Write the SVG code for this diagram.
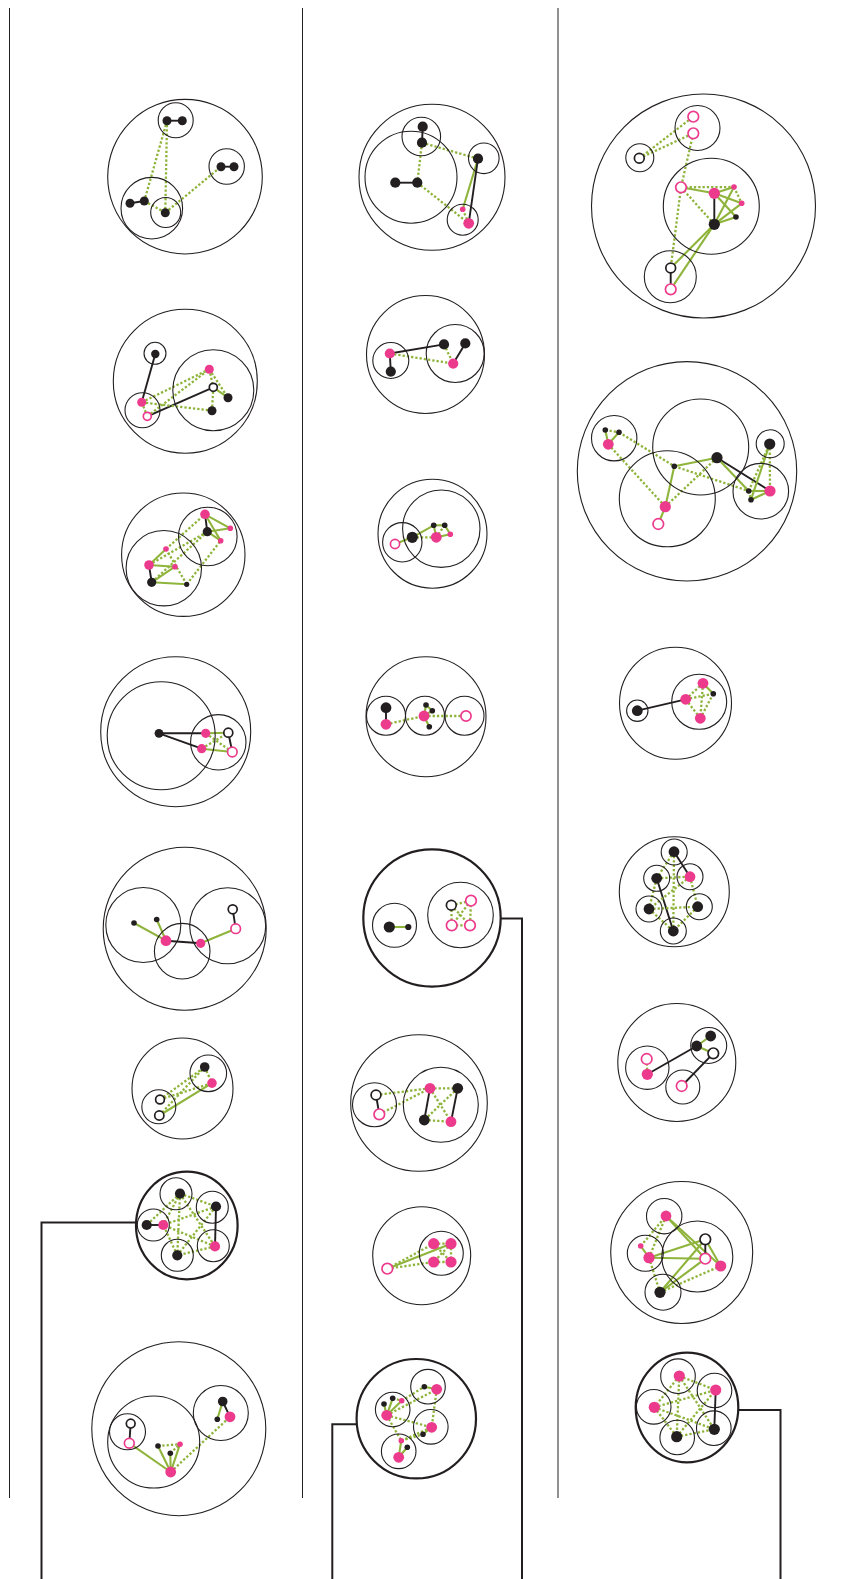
<svg xmlns="http://www.w3.org/2000/svg" width="848" height="1579" viewBox="0 0 848 1579">
<style>
.c{fill:none;stroke:#231f20;stroke-width:1.1}
.cb{fill:none;stroke:#231f20;stroke-width:2.2}
.k{fill:#231f20}
.m{fill:#ec3b8d}
.ho{fill:#fff;stroke:#231f20;stroke-width:1.7}
.hm{fill:#fff;stroke:#ec3b8d;stroke-width:1.7}
.eb{stroke:#231f20;stroke-width:1.9;fill:none}
.eg{stroke:#8fb43b;stroke-width:2.1;fill:none}
.ed{stroke:#8fb43b;stroke-width:2.3;stroke-dasharray:2.3 2;fill:none}
.rule{stroke:#231f20;stroke-width:1;fill:none}
.link{stroke:#231f20;stroke-width:2;fill:none}
</style>
<rect width="848" height="1579" fill="#fff"/>
<g id="rules">
<line class="rule" x1="9.5" y1="8" x2="9.5" y2="1498"/>
<line class="rule" x1="302.5" y1="8" x2="302.5" y2="1498"/>
<line class="rule" x1="558" y1="8" x2="558" y2="1498"/>
</g>
<g id="connectors">
<path class="link" d="M136,1222.5 H41.5 V1579"/>
<path class="link" d="M500.7,918.5 H522 V1579"/>
<path class="link" d="M356.7,1424.3 H332.3 V1579"/>
<path class="link" d="M738.3,1410 H780.5 V1579"/>
<!-- d1 -->
<line class="eb" x1="167" y1="120.7" x2="182.3" y2="120.7"/>
<line class="eb" x1="221" y1="166.7" x2="234" y2="166.7"/>
<line class="eb" x1="130" y1="203.3" x2="144.3" y2="201"/>
<line class="ed" x1="167" y1="120.7" x2="144.3" y2="201"/>
<line class="ed" x1="167" y1="120.7" x2="165.3" y2="212.7"/>
<line class="ed" x1="165.3" y1="212.7" x2="221" y2="166.7"/>
<line class="ed" x1="144.3" y1="201" x2="165.3" y2="212.7"/>
<!-- d2 -->
<line class="eb" x1="155.3" y1="354" x2="141.7" y2="402.3"/>
<line class="eb" x1="147.3" y1="416.3" x2="213.3" y2="387.3"/>
<line class="ed" x1="141.7" y1="402.3" x2="209.3" y2="369.3"/>
<line class="ed" x1="147.3" y1="416.3" x2="209.3" y2="369.3"/>
<line class="ed" x1="141.7" y1="402.3" x2="212" y2="410.7"/>
<line class="ed" x1="141.7" y1="402.3" x2="147.3" y2="416.3"/>
<line class="ed" x1="209.3" y1="369.3" x2="213.3" y2="387.3"/>
<line class="ed" x1="209.3" y1="369.3" x2="228" y2="397.7"/>
<line class="eg" x1="213.3" y1="387.3" x2="228" y2="397.7"/>
<line class="ed" x1="213.3" y1="387.3" x2="212" y2="410.7"/>
<!-- d3 -->
<line class="eb" x1="205" y1="514.3" x2="207.3" y2="531.7"/>
<line class="eb" x1="149" y1="565" x2="151.7" y2="582.3"/>
<line class="eg" x1="205" y1="514.3" x2="230.3" y2="528.3"/>
<line class="eg" x1="205" y1="514.3" x2="220.7" y2="540.7"/>
<line class="eg" x1="207.3" y1="531.7" x2="230.3" y2="528.3"/>
<line class="eg" x1="207.3" y1="531.7" x2="220.7" y2="540.7"/>
<line class="eg" x1="149" y1="565" x2="166" y2="549"/>
<line class="eg" x1="149" y1="565" x2="175" y2="566.7"/>
<line class="eg" x1="151.7" y1="582.3" x2="175" y2="566.7"/>
<line class="eg" x1="151.7" y1="582.3" x2="186.7" y2="584.3"/>
<line class="ed" x1="166" y1="549" x2="205" y2="514.3"/>
<line class="ed" x1="149" y1="565" x2="207.3" y2="531.7"/>
<line class="ed" x1="151.7" y1="582.3" x2="207.3" y2="531.7"/>
<line class="ed" x1="186.7" y1="584.3" x2="220.7" y2="540.7"/>
<line class="ed" x1="166" y1="549" x2="186.7" y2="584.3"/>
<!-- d4 -->
<line class="eb" x1="159" y1="733.3" x2="205.7" y2="733.3"/>
<line class="eb" x1="159" y1="733.3" x2="201.7" y2="748.7"/>
<line class="eg" x1="205.7" y1="733.3" x2="228.3" y2="732.7"/>
<line class="eg" x1="201.7" y1="748.7" x2="232.3" y2="752"/>
<line class="eb" x1="228.3" y1="732.7" x2="232.3" y2="752"/>
<line class="ed" x1="205.7" y1="733.3" x2="232.3" y2="752"/>
<line class="ed" x1="201.7" y1="748.7" x2="228.3" y2="732.7"/>
<!-- d5 -->
<line class="eg" x1="134" y1="923" x2="166" y2="940.7"/>
<line class="eg" x1="156.7" y1="919.5" x2="166" y2="940.7"/>
<line class="eb" x1="166" y1="940.7" x2="200.7" y2="943.3"/>
<line class="eg" x1="200.7" y1="943.3" x2="235.7" y2="928.7"/>
<line class="eb" x1="232.7" y1="909.3" x2="235.7" y2="928.7"/>
<!-- d6 -->
<line class="eg" x1="159.3" y1="1115.5" x2="212" y2="1083.1"/>
<line class="ed" x1="160" y1="1099.5" x2="204.7" y2="1067"/>
<line class="ed" x1="160" y1="1099.5" x2="212" y2="1083.1"/>
<line class="ed" x1="159.3" y1="1115.5" x2="204.7" y2="1067"/>
<line class="ed" x1="204.7" y1="1067" x2="212" y2="1083.1"/>
<!-- d7 -->
<line class="eb" x1="146.7" y1="1225" x2="163.3" y2="1225"/>
<line class="eb" x1="216" y1="1206.5" x2="215" y2="1246.4"/>
<line class="ed" x1="180" y1="1193.6" x2="216" y2="1206.5"/>
<line class="ed" x1="180" y1="1193.6" x2="215" y2="1246.4"/>
<line class="ed" x1="180" y1="1193.6" x2="177.3" y2="1255.3"/>
<line class="ed" x1="180" y1="1193.6" x2="163.3" y2="1225"/>
<line class="ed" x1="180" y1="1193.6" x2="146.7" y2="1225"/>
<line class="ed" x1="216" y1="1206.5" x2="163.3" y2="1225"/>
<line class="ed" x1="216" y1="1206.5" x2="177.3" y2="1255.3"/>
<line class="ed" x1="215" y1="1246.4" x2="177.3" y2="1255.3"/>
<line class="ed" x1="215" y1="1246.4" x2="163.3" y2="1225"/>
<line class="ed" x1="177.3" y1="1255.3" x2="163.3" y2="1225"/>
<!-- d8 -->
<line class="eb" x1="130.7" y1="1423.6" x2="129.3" y2="1443.2"/>
<line class="eg" x1="129.3" y1="1443.2" x2="170.7" y2="1472"/>
<line class="eg" x1="158" y1="1446" x2="170.7" y2="1472"/>
<line class="eg" x1="180" y1="1444.2" x2="170.7" y2="1472"/>
<line class="eg" x1="170.3" y1="1453.2" x2="170.7" y2="1472"/>
<line class="ed" x1="158" y1="1446" x2="180" y2="1444.2"/>
<line class="ed" x1="170.3" y1="1453.2" x2="180" y2="1444.2"/>
<line class="ed" x1="170.7" y1="1472" x2="230" y2="1416.8"/>
<line class="eb" x1="222.7" y1="1401.5" x2="230" y2="1416.8"/>
<line class="eg" x1="217.3" y1="1419.3" x2="222.7" y2="1401.5"/>
<!-- d9 -->
<line class="eb" x1="422.7" y1="126.7" x2="422" y2="142.7"/>
<line class="eb" x1="395.3" y1="182.7" x2="417.3" y2="182.7"/>
<line class="ed" x1="422" y1="142.7" x2="478" y2="158.7"/>
<line class="ed" x1="422" y1="142.7" x2="417.3" y2="182.7"/>
<line class="ed" x1="417.3" y1="182.7" x2="468.7" y2="223.3"/>
<line class="eg" x1="478" y1="158.7" x2="462.7" y2="209.3"/>
<line class="eb" x1="478" y1="158.7" x2="468.7" y2="223.3"/>
<line class="ed" x1="462.7" y1="209.3" x2="468.7" y2="223.3"/>
<!-- d10 -->
<line class="eb" x1="389.8" y1="353.5" x2="444" y2="344.4"/>
<line class="eb" x1="389.8" y1="353.5" x2="390.8" y2="371.6"/>
<line class="eb" x1="465.3" y1="343.4" x2="453.2" y2="363.6"/>
<line class="ed" x1="389.8" y1="353.5" x2="453.2" y2="363.6"/>
<line class="ed" x1="444" y1="344.4" x2="453.2" y2="363.6"/>
<!-- d11 -->
<line class="eg" x1="395" y1="544" x2="412.3" y2="537.3"/>
<line class="eg" x1="412.3" y1="537.3" x2="433.7" y2="525.3"/>
<line class="ed" x1="412.3" y1="537.3" x2="436.3" y2="537.3"/>
<line class="eg" x1="433.7" y1="525.3" x2="444.7" y2="525.3"/>
<line class="eg" x1="433.7" y1="525.3" x2="436.3" y2="537.3"/>
<line class="eg" x1="444.7" y1="525.3" x2="450.3" y2="534.3"/>
<line class="eg" x1="436.3" y1="537.3" x2="450.3" y2="534.3"/>
<line class="ed" x1="444.7" y1="525.3" x2="436.3" y2="537.3"/>
<!-- d12 -->
<line class="eb" x1="386" y1="707.7" x2="386" y2="724.3"/>
<line class="ed" x1="386" y1="724.3" x2="424" y2="716"/>
<line class="ed" x1="424" y1="716" x2="466" y2="716"/>
<line class="eg" x1="424" y1="716" x2="426" y2="705"/>
<line class="eg" x1="426" y1="705" x2="432.3" y2="710.7"/>
<line class="eg" x1="424" y1="716" x2="429.3" y2="726.7"/>
<line class="eg" x1="424" y1="716" x2="432.3" y2="710.7"/>
<!-- d13 -->
<line class="eg" x1="389.3" y1="927" x2="408.3" y2="927"/>
<line class="ed" x1="451.3" y1="905.3" x2="471" y2="900.7"/>
<line class="ed" x1="451.3" y1="905.3" x2="451.7" y2="925.3"/>
<line class="ed" x1="451.3" y1="905.3" x2="470" y2="925.3"/>
<line class="ed" x1="471" y1="900.7" x2="470" y2="925.3"/>
<line class="ed" x1="471" y1="900.7" x2="451.7" y2="925.3"/>
<line class="ed" x1="451.7" y1="925.3" x2="470" y2="925.3"/>
<!-- d14 -->
<line class="eb" x1="376" y1="1095" x2="379.3" y2="1114.3"/>
<line class="eb" x1="430" y1="1088.3" x2="424.3" y2="1120"/>
<line class="eb" x1="457.7" y1="1088.3" x2="451" y2="1121.7"/>
<line class="ed" x1="376" y1="1095" x2="430" y2="1088.3"/>
<line class="ed" x1="379.3" y1="1114.3" x2="430" y2="1088.3"/>
<line class="ed" x1="430" y1="1088.3" x2="457.7" y2="1088.3"/>
<line class="ed" x1="430" y1="1088.3" x2="451" y2="1121.7"/>
<line class="ed" x1="457.7" y1="1088.3" x2="424.3" y2="1120"/>
<line class="ed" x1="424.3" y1="1120" x2="451" y2="1121.7"/>
<!-- d15 -->
<line class="eg" x1="387.3" y1="1268.7" x2="451" y2="1243.7"/>
<line class="ed" x1="387.3" y1="1268.7" x2="433.7" y2="1243.7"/>
<line class="ed" x1="387.3" y1="1268.7" x2="433.7" y2="1262"/>
<line class="ed" x1="433.7" y1="1243.7" x2="451" y2="1243.7"/>
<line class="ed" x1="451" y1="1243.7" x2="451" y2="1262"/>
<line class="ed" x1="433.7" y1="1262" x2="451" y2="1262"/>
<line class="ed" x1="433.7" y1="1243.7" x2="451" y2="1262"/>
<line class="ed" x1="451" y1="1243.7" x2="433.7" y2="1262"/>
<!-- d16 -->
<line class="eg" x1="386.7" y1="1415.3" x2="384" y2="1404"/>
<line class="eg" x1="386.7" y1="1415.3" x2="392.7" y2="1398.3"/>
<line class="eg" x1="386.7" y1="1415.3" x2="401.7" y2="1400.7"/>
<line class="ed" x1="392.7" y1="1398.3" x2="401.7" y2="1400.7"/>
<line class="eg" x1="424.3" y1="1386.7" x2="436.7" y2="1389.3"/>
<line class="eg" x1="431.7" y1="1427.3" x2="423" y2="1434.3"/>
<line class="eg" x1="398.7" y1="1457.3" x2="401.3" y2="1440.7"/>
<line class="eg" x1="398.7" y1="1457.3" x2="407.3" y2="1447.3"/>
<line class="ed" x1="401.7" y1="1400.7" x2="424.3" y2="1386.7"/>
<line class="ed" x1="386.7" y1="1415.3" x2="436.7" y2="1389.3"/>
<line class="ed" x1="386.7" y1="1415.3" x2="431.7" y2="1427.3"/>
<line class="ed" x1="436.7" y1="1389.3" x2="431.7" y2="1427.3"/>
<line class="ed" x1="386.7" y1="1415.3" x2="401.3" y2="1440.7"/>
<line class="ed" x1="401.3" y1="1440.7" x2="423" y2="1434.3"/>
<line class="ed" x1="401.3" y1="1440.7" x2="431.7" y2="1427.3"/>
<!-- d17 -->
<line class="eb" x1="714.3" y1="193.3" x2="714.3" y2="224.3"/>
<line class="eb" x1="670.7" y1="268" x2="670.7" y2="289.3"/>
<line class="eg" x1="681" y1="187.3" x2="714.3" y2="193.3"/>
<line class="eg" x1="714.3" y1="193.3" x2="734" y2="187"/>
<line class="eg" x1="714.3" y1="193.3" x2="741.7" y2="203.3"/>
<line class="eg" x1="714.3" y1="193.3" x2="736" y2="217"/>
<line class="eg" x1="714.3" y1="224.3" x2="734" y2="187"/>
<line class="eg" x1="714.3" y1="224.3" x2="741.7" y2="203.3"/>
<line class="eg" x1="714.3" y1="224.3" x2="736" y2="217"/>
<line class="eg" x1="714.3" y1="224.3" x2="670.7" y2="268"/>
<line class="eg" x1="714.3" y1="224.3" x2="670.7" y2="289.3"/>
<line class="ed" x1="639.3" y1="158.3" x2="693.3" y2="116.7"/>
<line class="ed" x1="639.3" y1="158.3" x2="693.3" y2="133.3"/>
<line class="ed" x1="693.3" y1="133.3" x2="681" y2="187.3"/>
<line class="ed" x1="681" y1="187.3" x2="734" y2="187"/>
<line class="ed" x1="681" y1="187.3" x2="714.3" y2="224.3"/>
<line class="ed" x1="681" y1="187.3" x2="670.7" y2="268"/>
<line class="ed" x1="734" y1="187" x2="741.7" y2="203.3"/>
<!-- d18 -->
<line class="eg" x1="605.3" y1="430" x2="608.3" y2="444.3"/>
<line class="eg" x1="608.3" y1="444.3" x2="619" y2="432.3"/>
<line class="ed" x1="605.3" y1="430" x2="619" y2="432.3"/>
<line class="ed" x1="619" y1="432.3" x2="674.3" y2="466.3"/>
<line class="ed" x1="608.3" y1="444.3" x2="665.3" y2="506.7"/>
<line class="eg" x1="665.3" y1="506.7" x2="674.3" y2="466.3"/>
<line class="eg" x1="674.3" y1="466.3" x2="717" y2="457.7"/>
<line class="eg" x1="665.3" y1="506.7" x2="658.3" y2="524"/>
<line class="ed" x1="665.3" y1="506.7" x2="717" y2="457.7"/>
<line class="eb" x1="717" y1="457.7" x2="770" y2="491"/>
<line class="eg" x1="717" y1="457.7" x2="748.7" y2="491"/>
<line class="ed" x1="674.3" y1="466.3" x2="748.7" y2="491"/>
<line class="eg" x1="748.7" y1="491" x2="770" y2="491"/>
<line class="eg" x1="751" y1="499.7" x2="770" y2="491"/>
<line class="eg" x1="751" y1="499.7" x2="769.7" y2="444"/>
<line class="ed" x1="748.7" y1="491" x2="769.7" y2="444"/>
<line class="ed" x1="769.7" y1="444" x2="770" y2="491"/>
<line class="ed" x1="748.7" y1="491" x2="751" y2="499.7"/>
<!-- d19 -->
<line class="eb" x1="637.3" y1="710.7" x2="685.7" y2="699.3"/>
<line class="ed" x1="685.7" y1="699.3" x2="703" y2="683.3"/>
<line class="ed" x1="685.7" y1="699.3" x2="713.3" y2="693.7"/>
<line class="ed" x1="685.7" y1="699.3" x2="700.3" y2="718.3"/>
<line class="ed" x1="703" y1="683.3" x2="700.3" y2="718.3"/>
<line class="ed" x1="713.3" y1="693.7" x2="700.3" y2="718.3"/>
<line class="eg" x1="703" y1="683.3" x2="713.3" y2="693.7"/>
<!-- d20 -->
<line class="eb" x1="674" y1="851.7" x2="690" y2="876.7"/>
<line class="eb" x1="656.7" y1="878.3" x2="673.3" y2="931"/>
<line class="ed" x1="674" y1="851.7" x2="656.7" y2="878.3"/>
<line class="ed" x1="674" y1="851.7" x2="673.3" y2="931"/>
<line class="ed" x1="656.7" y1="878.3" x2="649" y2="909"/>
<line class="ed" x1="656.7" y1="878.3" x2="690" y2="876.7"/>
<line class="ed" x1="690" y1="876.7" x2="697.7" y2="906.7"/>
<line class="ed" x1="649" y1="909" x2="697.7" y2="906.7"/>
<line class="ed" x1="649" y1="909" x2="673.3" y2="931"/>
<line class="ed" x1="697.7" y1="906.7" x2="673.3" y2="931"/>
<line class="ed" x1="690" y1="876.7" x2="649" y2="909"/>
<!-- d21 -->
<line class="eb" x1="647.3" y1="1074.3" x2="696.7" y2="1046"/>
<line class="eb" x1="713.3" y1="1053.3" x2="681.7" y2="1086"/>
<line class="eg" x1="696.7" y1="1046" x2="710.7" y2="1036"/>
<line class="eg" x1="696.7" y1="1046" x2="713.3" y2="1053.3"/>
<line class="ed" x1="646.7" y1="1059" x2="647.3" y2="1074.3"/>
<!-- d22 -->
<line class="eg" x1="666" y1="1216" x2="705.3" y2="1258.7"/>
<line class="eg" x1="666" y1="1216" x2="720.7" y2="1266"/>
<line class="eg" x1="649" y1="1257.7" x2="705.3" y2="1239.3"/>
<line class="eg" x1="649" y1="1257.7" x2="705.3" y2="1258.7"/>
<line class="eg" x1="660" y1="1292.3" x2="705.3" y2="1239.3"/>
<line class="eg" x1="660" y1="1292.3" x2="705.3" y2="1258.7"/>
<line class="eg" x1="640.7" y1="1246" x2="649" y2="1257.7"/>
<line class="eg" x1="705.3" y1="1239.3" x2="720.7" y2="1266"/>
<line class="eb" x1="705.3" y1="1239.3" x2="705.3" y2="1258.7"/>
<line class="ed" x1="666" y1="1216" x2="649" y2="1257.7"/>
<line class="ed" x1="640.7" y1="1246" x2="666" y2="1216"/>
<line class="ed" x1="649" y1="1257.7" x2="660" y2="1292.3"/>
<line class="ed" x1="660" y1="1292.3" x2="720.7" y2="1266"/>
<!-- d23 -->
<line class="eb" x1="715.7" y1="1390" x2="714.3" y2="1429.3"/>
<line class="ed" x1="679.3" y1="1376" x2="715.7" y2="1390"/>
<line class="ed" x1="679.3" y1="1376" x2="654.3" y2="1407.3"/>
<line class="ed" x1="679.3" y1="1376" x2="676.7" y2="1436.7"/>
<line class="ed" x1="679.3" y1="1376" x2="714.3" y2="1429.3"/>
<line class="ed" x1="654.3" y1="1407.3" x2="715.7" y2="1390"/>
<line class="ed" x1="654.3" y1="1407.3" x2="714.3" y2="1429.3"/>
<line class="ed" x1="654.3" y1="1407.3" x2="676.7" y2="1436.7"/>
<line class="ed" x1="676.7" y1="1436.7" x2="714.3" y2="1429.3"/>
<line class="ed" x1="676.7" y1="1436.7" x2="715.7" y2="1390"/>
</g>
<g id="d1">
<circle class="c" cx="185" cy="176.7" r="77.3"/><circle class="c" cx="175.7" cy="120.3" r="17.5"/><circle class="c" cx="226.7" cy="166.5" r="17.7"/><circle class="c" cx="151.8" cy="208.2" r="30.8"/><circle class="c" cx="165.7" cy="212.5" r="15"/>
<circle class="k" cx="167" cy="120.7" r="4.5"/><circle class="k" cx="182.3" cy="120.7" r="4.5"/><circle class="k" cx="221" cy="166.7" r="4.5"/><circle class="k" cx="234" cy="166.7" r="4.5"/><circle class="k" cx="130" cy="203.3" r="4.5"/><circle class="k" cx="144.3" cy="201" r="4.5"/><circle class="k" cx="165.3" cy="212.7" r="4.5"/>
</g>
<g id="d2">
<circle class="c" cx="185.3" cy="381.3" r="72"/><circle class="c" cx="213.3" cy="390.3" r="40.5"/><circle class="c" cx="155" cy="353.3" r="11"/><circle class="c" cx="142.5" cy="410.2" r="17.5"/>
<circle class="k" cx="155.3" cy="354" r="4.2"/><circle class="m" cx="141.7" cy="402.3" r="4.5"/><circle class="hm" cx="147.3" cy="416.3" r="4"/><circle class="m" cx="209.3" cy="369.3" r="4.5"/><circle class="ho" cx="213.3" cy="387.3" r="4"/><circle class="k" cx="228" cy="397.7" r="4.5"/><circle class="k" cx="212" cy="410.7" r="4.5"/>
</g>
<g id="d3">
<circle class="c" cx="183.3" cy="554.7" r="61.7"/><circle class="c" cx="163.8" cy="568.2" r="37.7"/><circle class="c" cx="207.8" cy="536.5" r="29.3"/>
<circle class="m" cx="205" cy="514.3" r="4.8"/><circle class="k" cx="207.3" cy="531.7" r="4.6"/><circle class="m" cx="230.3" cy="528.3" r="2.8"/><circle class="m" cx="220.7" cy="540.7" r="2.8"/><circle class="m" cx="166" cy="549" r="2.8"/><circle class="m" cx="149" cy="565" r="4.8"/><circle class="m" cx="175" cy="566.7" r="2.8"/><circle class="k" cx="151.7" cy="582.3" r="4.6"/><circle class="k" cx="186.7" cy="584.3" r="2.6"/>
</g>
<g id="d4">
<circle class="c" cx="175.7" cy="731.7" r="75"/><circle class="c" cx="161.2" cy="735.8" r="54"/><circle class="c" cx="218.3" cy="742.3" r="27.7"/>
<circle class="k" cx="159" cy="733.3" r="4.4"/><circle class="m" cx="205.7" cy="733.3" r="4.6"/><circle class="ho" cx="228.3" cy="732.7" r="4.5"/><circle class="m" cx="201.7" cy="748.7" r="4.6"/><circle class="hm" cx="232.3" cy="752" r="4.8"/>
</g>
<g id="d5">
<circle class="c" cx="184.7" cy="928.7" r="81.5"/><circle class="c" cx="143.3" cy="925" r="37.5"/><circle class="c" cx="182.2" cy="951.2" r="27.8"/><circle class="c" cx="227.7" cy="925.8" r="38"/>
<circle class="k" cx="134" cy="923" r="2.8"/><circle class="k" cx="156.7" cy="919.5" r="2.8"/><circle class="m" cx="166" cy="940.7" r="5.4"/><circle class="m" cx="200.7" cy="943.3" r="4.6"/><circle class="ho" cx="232.7" cy="909.3" r="4.5"/><circle class="hm" cx="235.7" cy="928.7" r="4.8"/>
</g>
<g id="d6">
<circle class="c" cx="182.5" cy="1088.5" r="50.5"/><circle class="c" cx="208.3" cy="1073.3" r="18.3"/><circle class="c" cx="158.8" cy="1106.8" r="17"/>
<circle class="k" cx="204.7" cy="1067" r="4.8"/><circle class="m" cx="212" cy="1083.1" r="4.8"/><circle class="ho" cx="160" cy="1099.5" r="4.4"/><circle class="ho" cx="159.3" cy="1115.5" r="4.6"/>
</g>
<g id="d7">
<ellipse class="cb" cx="186.8" cy="1225.5" rx="50.8" ry="53.8"/>
<circle class="c" cx="176" cy="1193.8" r="16"/><circle class="c" cx="212.3" cy="1207.2" r="16"/><circle class="c" cx="213.3" cy="1245.7" r="16"/><circle class="c" cx="177.3" cy="1255.3" r="16"/><circle class="c" cx="153.3" cy="1225" r="16"/>
<circle class="k" cx="180" cy="1193.6" r="5.1"/><circle class="k" cx="216" cy="1206.5" r="5.1"/><circle class="m" cx="215" cy="1246.4" r="5.1"/><circle class="k" cx="177.3" cy="1255.3" r="5.1"/><circle class="k" cx="146.7" cy="1225" r="5.1"/><circle class="m" cx="163.3" cy="1225" r="5.1"/>
</g>
<g id="d8">
<circle class="c" cx="178.8" cy="1428.7" r="87"/><circle class="c" cx="153.7" cy="1442" r="46"/><circle class="c" cx="127.5" cy="1431.8" r="18"/><circle class="c" cx="220.8" cy="1413" r="27.5"/>
<circle class="ho" cx="130.7" cy="1423.6" r="4.4"/><circle class="hm" cx="129.3" cy="1443.2" r="4.9"/><circle class="k" cx="158" cy="1446" r="2.8"/><circle class="m" cx="180" cy="1444.2" r="2.8"/><circle class="k" cx="170.3" cy="1453.2" r="2.8"/><circle class="m" cx="170.7" cy="1472" r="5.4"/><circle class="k" cx="222.7" cy="1401.5" r="4.8"/><circle class="k" cx="217.3" cy="1419.3" r="2.8"/><circle class="m" cx="230" cy="1416.8" r="5.4"/>
</g>
<g id="d9">
<circle class="c" cx="432" cy="177.3" r="73"/><circle class="c" cx="411" cy="177.2" r="46"/><circle class="c" cx="421.3" cy="136.5" r="19.3"/><circle class="c" cx="483.8" cy="158.3" r="15.3"/><circle class="c" cx="462.7" cy="219.7" r="15.5"/>
<circle class="k" cx="422.7" cy="126.7" r="5.1"/><circle class="k" cx="422" cy="142.7" r="5.1"/><circle class="k" cx="395.3" cy="182.7" r="5.1"/><circle class="k" cx="417.3" cy="182.7" r="5.1"/><circle class="k" cx="478" cy="158.7" r="5.1"/><circle class="m" cx="462.7" cy="209.3" r="2.8"/><circle class="m" cx="468.7" cy="223.3" r="5.4"/>
</g>
<g id="d10">
<circle class="c" cx="425.5" cy="354.5" r="59"/><circle class="c" cx="390.8" cy="360.5" r="18"/><circle class="c" cx="455.2" cy="353.5" r="29"/>
<circle class="m" cx="389.8" cy="353.5" r="5.1"/><circle class="k" cx="390.8" cy="371.6" r="5.1"/><circle class="k" cx="444" cy="344.4" r="5.1"/><circle class="k" cx="465.3" cy="343.4" r="5.1"/><circle class="m" cx="453.2" cy="363.6" r="5.1"/>
</g>
<g id="d11">
<circle class="c" cx="432.5" cy="533.7" r="54.5"/><circle class="c" cx="441.3" cy="528.7" r="38.7"/><circle class="c" cx="402.3" cy="542.3" r="19.7"/>
<circle class="hm" cx="395" cy="544" r="4.6"/><circle class="k" cx="412.3" cy="537.3" r="5.6"/><circle class="m" cx="436.3" cy="537.3" r="5.4"/><circle class="k" cx="433.7" cy="525.3" r="2.8"/><circle class="k" cx="444.7" cy="525.3" r="2.8"/><circle class="m" cx="450.3" cy="534.3" r="2.8"/>
</g>
<g id="d12">
<circle class="c" cx="426" cy="716.7" r="60"/><circle class="c" cx="386" cy="715.7" r="19.5"/><circle class="c" cx="425" cy="715.7" r="19.5"/><circle class="c" cx="464.5" cy="715.7" r="19.5"/>
<circle class="k" cx="386" cy="707.7" r="5.4"/><circle class="m" cx="386" cy="724.3" r="5.4"/><circle class="m" cx="424" cy="716" r="5.4"/><circle class="k" cx="426" cy="705" r="2.8"/><circle class="k" cx="432.3" cy="710.7" r="2.8"/><circle class="k" cx="429.3" cy="726.7" r="2.8"/><circle class="hm" cx="466" cy="716" r="5.1"/>
</g>
<g id="d13">
<circle class="cb" cx="432" cy="918" r="68.7"/><circle class="c" cx="394.5" cy="925.3" r="22"/><circle class="c" cx="460.5" cy="915" r="32.8"/>
<circle class="k" cx="389.3" cy="927" r="5.6"/><circle class="k" cx="408.3" cy="927" r="3.1"/><circle class="ho" cx="451.3" cy="905.3" r="4.9"/><circle class="hm" cx="471" cy="900.7" r="5.3"/><circle class="hm" cx="451.7" cy="925.3" r="5.3"/><circle class="hm" cx="470" cy="925.3" r="5.3"/>
</g>
<g id="d14">
<circle class="c" cx="419" cy="1103" r="68.3"/><circle class="c" cx="374.5" cy="1104.7" r="22"/><circle class="c" cx="440.8" cy="1104.8" r="37.5"/>
<circle class="ho" cx="376" cy="1095" r="4.9"/><circle class="hm" cx="379.3" cy="1114.3" r="5.3"/><circle class="m" cx="430" cy="1088.3" r="5.4"/><circle class="k" cx="457.7" cy="1088.3" r="5.4"/><circle class="k" cx="424.3" cy="1120" r="5.4"/><circle class="m" cx="451" cy="1121.7" r="5.4"/>
</g>
<g id="d15">
<circle class="c" cx="421.7" cy="1255.8" r="49"/><circle class="c" cx="441.3" cy="1253.3" r="22"/>
<circle class="hm" cx="387.3" cy="1268.7" r="5.3"/><circle class="m" cx="433.7" cy="1243.7" r="5.6"/><circle class="m" cx="451" cy="1243.7" r="5.6"/><circle class="m" cx="433.7" cy="1262" r="5.6"/><circle class="m" cx="451" cy="1262" r="5.6"/>
</g>
<g id="d16">
<circle class="cb" cx="416.3" cy="1418.7" r="59.7"/><circle class="c" cx="392.7" cy="1409.5" r="17.3"/><circle class="c" cx="428" cy="1386.7" r="17.3"/><circle class="c" cx="430.8" cy="1426.8" r="17.3"/><circle class="c" cx="398.7" cy="1451.3" r="17.3"/>
<circle class="m" cx="386.7" cy="1415.3" r="5.4"/><circle class="k" cx="384" cy="1404" r="2.8"/><circle class="k" cx="392.7" cy="1398.3" r="2.8"/><circle class="m" cx="401.7" cy="1400.7" r="2.8"/><circle class="k" cx="424.3" cy="1386.7" r="2.8"/><circle class="m" cx="436.7" cy="1389.3" r="5.4"/><circle class="m" cx="431.7" cy="1427.3" r="5.4"/><circle class="k" cx="423" cy="1434.3" r="2.8"/><circle class="m" cx="398.7" cy="1457.3" r="5.4"/><circle class="m" cx="401.3" cy="1440.7" r="2.8"/><circle class="k" cx="407.3" cy="1447.3" r="2.8"/>
</g>
<g id="d17">
<circle class="c" cx="703.5" cy="206" r="112"/><circle class="c" cx="697.5" cy="128" r="22.5"/><circle class="c" cx="639.8" cy="157.8" r="14"/><circle class="c" cx="711.3" cy="206.2" r="48"/><circle class="c" cx="670.3" cy="276.7" r="26"/>
<circle class="ho" cx="639.3" cy="158.3" r="4.9"/><circle class="hm" cx="693.3" cy="116.7" r="5.3"/><circle class="hm" cx="693.3" cy="133.3" r="5.3"/><circle class="hm" cx="681" cy="187.3" r="5.3"/><circle class="m" cx="714.3" cy="193.3" r="5.6"/><circle class="m" cx="734" cy="187" r="2.8"/><circle class="m" cx="741.7" cy="203.3" r="2.8"/><circle class="k" cx="736" cy="217" r="2.8"/><circle class="k" cx="714.3" cy="224.3" r="5.6"/><circle class="ho" cx="670.7" cy="268" r="4.9"/><circle class="hm" cx="670.7" cy="289.3" r="5.3"/>
</g>
<g id="d18">
<circle class="c" cx="687" cy="471.3" r="109.7"/><circle class="c" cx="700.7" cy="447" r="48"/><circle class="c" cx="667.3" cy="498.8" r="48"/><circle class="c" cx="614.2" cy="438.2" r="22.7"/><circle class="c" cx="770.2" cy="443.8" r="14"/><circle class="c" cx="760.8" cy="491.2" r="27.8"/>
<circle class="k" cx="605.3" cy="430" r="2.8"/><circle class="k" cx="619" cy="432.3" r="2.8"/><circle class="m" cx="608.3" cy="444.3" r="5.4"/><circle class="k" cx="674.3" cy="466.3" r="2.8"/><circle class="k" cx="717" cy="457.7" r="5.6"/><circle class="k" cx="769.7" cy="444" r="5.6"/><circle class="k" cx="748.7" cy="491" r="2.8"/><circle class="k" cx="751" cy="499.7" r="2.8"/><circle class="m" cx="770" cy="491" r="5.6"/><circle class="m" cx="665.3" cy="506.7" r="5.6"/><circle class="hm" cx="658.3" cy="524" r="5.3"/>
</g>
<g id="d19">
<circle class="c" cx="675.5" cy="703.3" r="56"/><circle class="c" cx="699.2" cy="701.8" r="27.5"/><circle class="c" cx="637.3" cy="710.7" r="10.7"/>
<circle class="k" cx="637.3" cy="710.7" r="5.4"/><circle class="m" cx="685.7" cy="699.3" r="5.4"/><circle class="m" cx="703" cy="683.3" r="5.4"/><circle class="k" cx="713.3" cy="693.7" r="2.8"/><circle class="m" cx="700.3" cy="718.3" r="5.4"/>
</g>
<g id="d20">
<circle class="c" cx="674.3" cy="891.7" r="55"/><circle class="c" cx="674.2" cy="852" r="13"/><circle class="c" cx="656.7" cy="878.3" r="13"/><circle class="c" cx="690" cy="876.7" r="13"/><circle class="c" cx="649" cy="909" r="13"/><circle class="c" cx="699.3" cy="906.7" r="13"/><circle class="c" cx="673.3" cy="931" r="13"/>
<circle class="k" cx="674" cy="851.7" r="5.4"/><circle class="k" cx="656.7" cy="878.3" r="5.4"/><circle class="m" cx="690" cy="876.7" r="5.4"/><circle class="k" cx="649" cy="909" r="5.4"/><circle class="k" cx="697.7" cy="906.7" r="5.4"/><circle class="k" cx="673.3" cy="931" r="5.4"/>
</g>
<g id="d21">
<circle class="c" cx="676.8" cy="1062.5" r="59"/><circle class="c" cx="647.3" cy="1067.7" r="21.7"/><circle class="c" cx="708.7" cy="1045.5" r="18"/><circle class="c" cx="682.8" cy="1087" r="17"/>
<circle class="hm" cx="646.7" cy="1059" r="5.3"/><circle class="m" cx="647.3" cy="1074.3" r="5.6"/><circle class="k" cx="710.7" cy="1036" r="5.4"/><circle class="k" cx="696.7" cy="1046" r="5.4"/><circle class="ho" cx="713.3" cy="1053.3" r="5.3"/><circle class="hm" cx="681.7" cy="1086" r="5.3"/>
</g>
<g id="d22">
<circle class="c" cx="681.7" cy="1252.5" r="71"/><circle class="c" cx="664.2" cy="1216.2" r="17.7"/><circle class="c" cx="645.3" cy="1253.3" r="18"/><circle class="c" cx="663" cy="1292.2" r="18"/><circle class="c" cx="697.3" cy="1256.5" r="35.5"/>
<circle class="m" cx="666" cy="1216" r="5.4"/><circle class="m" cx="640.7" cy="1246" r="2.8"/><circle class="m" cx="649" cy="1257.7" r="5.6"/><circle class="k" cx="660" cy="1292.3" r="5.6"/><circle class="ho" cx="705.3" cy="1239.3" r="5.3"/><circle class="hm" cx="705.3" cy="1258.7" r="5.3"/><circle class="m" cx="720.7" cy="1266" r="5.6"/>
</g>
<g id="d23">
<ellipse class="cb" cx="687" cy="1407.5" rx="51.3" ry="54.8"/>
<circle class="c" cx="678" cy="1376.2" r="17.3"/><circle class="c" cx="714.5" cy="1390.5" r="17.3"/><circle class="c" cx="653.7" cy="1406.8" r="17.3"/><circle class="c" cx="713.8" cy="1428.2" r="17.3"/><circle class="c" cx="677.2" cy="1437.5" r="17.3"/>
<circle class="m" cx="679.3" cy="1376" r="5.6"/><circle class="m" cx="715.7" cy="1390" r="5.6"/><circle class="m" cx="654.3" cy="1407.3" r="5.6"/><circle class="k" cx="714.3" cy="1429.3" r="5.6"/><circle class="k" cx="676.7" cy="1436.7" r="5.6"/>
</g>
</svg>
